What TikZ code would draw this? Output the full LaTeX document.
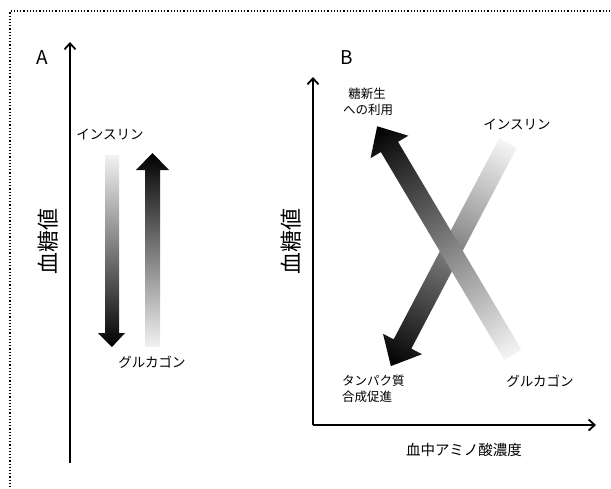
\documentclass[tikz,border=0pt]{standalone}
\usepackage{fontspec}
\setmainfont{Noto Sans CJK JP}
\usetikzlibrary{arrows.meta}
\tikzset{
  axis/.style={line width=1.8pt,-{Straight Barb[length=6pt,width=11pt,line width=1.8pt]}},
  lbl/.style={inner sep=0pt,font=\fontsize{13.5}{15}\selectfont},
  lbls/.style={inner sep=0pt,font=\fontsize{12.5}{14}\selectfont},
  big/.style={inner sep=0pt,font=\fontsize{22}{24}\selectfont},
  pl/.style={inner sep=0pt,font=\fontsize{19}{22}\selectfont},
}
% fat arrow along local x from 0 to #1
\newcommand{\fatarrow}[5]{% length, shaft half, head half, head len, style
  \shade[#5] (0,-#2) -- ({#1-#4},-#2) -- ({#1-#4},-#3) -- (#1,0) -- ({#1-#4},#3) -- ({#1-#4},#2) -- (0,#2) -- cycle;}
\begin{document}
\begin{tikzpicture}[x=1pt,y=-1pt]
\useasboundingbox (0,0) rectangle (611,488);
% frame
\draw[line width=1.2pt,dotted] (10,500) -- (10,11) -- (620,11);

% ---------- Panel A ----------
\coordinate (a0) at (70,463);
\coordinate (a1) at (70,42);
\draw[axis] (a0) -- (a1);
\node[pl] (A) at (42,58) {A};
\node[big,rotate=90] (ya) at (48,241) {血糖値};

% insulin A (down, white->black)
\shade[top color=white!95!black,bottom color=black]
  (105,155) -- (119,155) -- (119,333) -- (125,333) -- (112,347) -- (98,333) -- (105,333) -- cycle;
% glucagon A (up, black top -> white bottom)
\shade[top color=black,bottom color=white!95!black]
  (145,347) -- (160,347) -- (160,170) -- (169,170) -- (152.5,153) -- (136,170) -- (145,170) -- cycle;
\node[lbl] (insA) at (110,134) {インスリン};
\node[lbl] (gluA) at (152,362) {グルカゴン};

% ---------- Panel B ----------
\coordinate (o) at (313,425);
\coordinate (yb) at (313,77);
\coordinate (xb) at (596,425);
\draw[axis] (o) -- (yb);
\draw[axis] (o) -- (xb);
\node[pl] (B) at (347,58) {B};
\node[big,rotate=90] (yB) at (291,241) {血糖値};
\node[inner sep=0pt,font=\fontsize{14.5}{16}\selectfont] (xl) at (464,450) {血中アミノ酸濃度};

% insulin B: tail (508,143) -> tip (391,366)
\begin{scope}[transform canvas={shift={(508,143)},rotate=242.3}]
  \fatarrow{252}{10}{22}{25}{left color=white!96!black,right color=black}
\end{scope}
% glucagon B: tail (513,355) -> tip (377,126)
\begin{scope}[transform canvas={shift={(513,355)},rotate=120.7}]
  \fatarrow{266}{10}{22}{24}{left color=white!96!black,right color=black}
\end{scope}

\node[lbls] (t1) at (367,94) {糖新生};
\node[lbls] (t2) at (368,110) {への利用};
\node[lbl] (insB) at (517,124) {インスリン};
\node[lbls,anchor=west] (t3) at (342,381) {タンパク質};
\node[lbls,anchor=west] (t4) at (342,397) {合成促進};
\node[lbl] (gluB) at (540,381) {グルカゴン};
\end{tikzpicture}
\end{document}
